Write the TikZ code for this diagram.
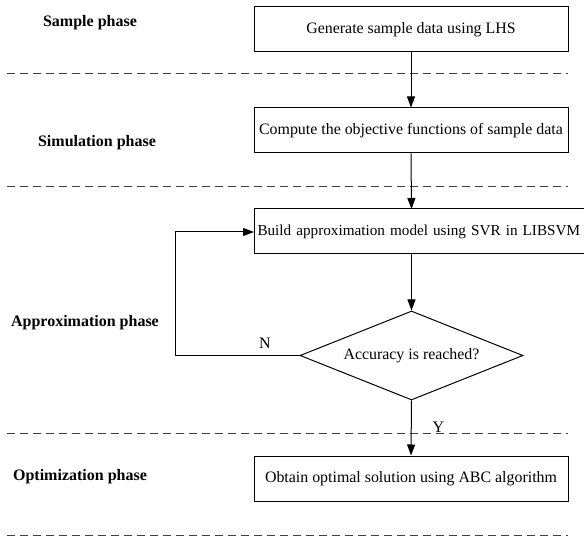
\documentclass[tikz,border=0pt]{standalone}
\usepackage{fontspec}
\setmainfont{Liberation Serif}
\usetikzlibrary{arrows.meta,shapes.geometric}
\begin{document}
\begin{tikzpicture}[x=1pt,y=-1pt,
  box/.style={draw,line width=1pt,minimum width=314pt,minimum height=45pt,inner sep=0pt,font=\fontsize{15.9}{18}\selectfont},
  sep/.style={line width=1pt,dash pattern=on 8pt off 5pt,black!75},
  conn/.style={line width=1pt,-{Triangle[length=11pt,width=8pt]}},
  phase/.style={font=\bfseries\fontsize{16}{18}\selectfont},
  lbl/.style={font=\fontsize{16}{18}\selectfont}]
\useasboundingbox (0,0) rectangle (584,537);
\begin{scope}
\clip (0,0) rectangle (584,537);
\node[box] (b1) at (411,29.5) {Generate sample data using LHS};
\node[box] (b2) at (411,130.5) {Compute the objective functions of sample data};
\node[box,minimum width=340pt,anchor=west,align=left,text width=336pt,font=\fontsize{15.2}{18}\selectfont] (b3) at (254,231.5) {\hspace*{1pt}Build approximation model using SVR in LIBSVM};
\node[draw,diamond,aspect=2.5,line width=1pt,minimum width=223pt,minimum height=89pt,inner sep=0pt,font=\fontsize{15.9}{18}\selectfont] (d) at (411.5,355.5) {Accuracy is reached?};
\node[box] (b4) at (411,478.5) {Obtain optimal solution using ABC algorithm};
\coordinate (b3top) at (411.5,209);
\coordinate (b3bot) at (411.5,254);
\coordinate (corner1) at (175,355.5);
\coordinate (corner2) at (175,232);
\coordinate (b3left) at (254,232);
\draw[sep] (7,74) -- (568,74);
\draw[sep] (7,187) -- (568,187);
\draw[sep] (7,433) -- (568,433);
\draw[sep] (7,535.5) -- (568,535.5);
\draw[conn] (b1.south) -- (b2.north);
\draw[conn] (b2.south) -- (b3top);
\draw[conn] (b3bot) -- (d.north);
\draw[conn] (d.south) -- (b4.north);
\draw[conn] (d.west) -- (corner1) -- (corner2) -- (b3left);
\node[lbl] (n) at (265,343) {N};
\node[lbl] (y) at (438.5,427) {Y};
\node[phase] (p1) at (90,23) {Sample phase};
\node[phase] (p2) at (97,143) {Simulation phase};
\node[phase] (p3) at (85,323) {Approximation phase};
\node[phase] (p4) at (80,477) {Optimization phase};
\end{scope}
\end{tikzpicture}
\end{document}
